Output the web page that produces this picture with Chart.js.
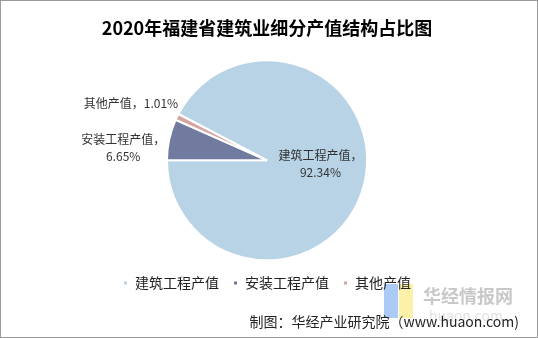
<!DOCTYPE html>
<html>
<head>
<meta charset="utf-8">
<script src="https://cdn.jsdelivr.net/npm/chart.js@4/dist/chart.umd.min.js"></script>
<style>
  html, body { margin: 0; padding: 0; background: #fff; }
  #wrap { position: relative; width: 538px; height: 338px; box-sizing: border-box; border: 1px solid #9a9a9a; }
  canvas { display: block; }
</style>
</head>
<body>
<div id="wrap"><canvas id="grafico_pizza" width="536" height="336"></canvas></div>
<script>
const ctx = document.getElementById('grafico_pizza')

const FONTE = '"Noto Sans CJK SC", "Noto Sans", sans-serif'

// dados
const categorias = ['建筑工程产值', '安装工程产值', '其他产值']
const valores = [92.34, 6.65, 1.01]
const cores = ['#b8d3e5', '#717b9f', '#d4a4a3']

// rótulos fora/dentro de cada fatia (deslocamento a partir da borda da fatia)
const rotulosPos = [
  { dentro: true, dx: 0, dy: -10 },
  { dentro: false, dx: -46, dy: 8 },
  { dentro: false, dx: -46, dy: -13 }
]

// começa a fatia grande logo depois das duas pequenas (que ficam à esquerda)
const rotacao = 270 + (valores[1] + valores[2]) * 3.6

const rotulosPlugin = {
  id: 'rotulos',
  afterDatasetsDraw(chart) {
    const c = chart.ctx
    const meta = chart.getDatasetMeta(0)
    c.save()
    c.fillStyle = '#333'
    c.font = '12px ' + FONTE
    c.textAlign = 'center'
    c.textBaseline = 'middle'
    meta.data.forEach((arc, i) => {
      const p = arc.getProps(['x', 'y', 'startAngle', 'endAngle', 'outerRadius'], true)
      const meio = (p.startAngle + p.endAngle) / 2
      const txt = valores[i].toFixed(2) + '%'
      const pos = rotulosPos[i]
      if (pos.dentro) {
        const r = p.outerRadius * 0.55
        const x = p.x + Math.cos(meio) * r + pos.dx
        const y = p.y + Math.sin(meio) * r + pos.dy
        c.fillText(categorias[i] + '，', x, y - 8)
        c.fillText(txt, x, y + 9)
      } else {
        const x = p.x + Math.cos(meio) * p.outerRadius + pos.dx
        const y = p.y + Math.sin(meio) * p.outerRadius + pos.dy
        if (i === 2) {
          c.fillText(categorias[i] + '，' + txt, x, y)
        } else {
          c.fillText(categorias[i] + '，', x, y - 8)
          c.fillText(txt, x, y + 9)
        }
      }
    })
    c.restore()
  }
}

// marca d'água + fonte
const rodapePlugin = {
  id: 'rodape',
  beforeDraw(chart) {
    const c = chart.ctx
    c.save()
    c.fillStyle = 'rgba(150,190,245,0.8)'
    c.fillRect(383, 283, 14, 34)
    c.fillStyle = 'rgba(253,238,160,0.9)'
    c.fillRect(398, 283, 14, 34)
    c.fillStyle = '#c8c8c8'
    c.font = 'bold 18px ' + FONTE
    c.textBaseline = 'middle'
    c.fillText('华经情报网', 422, 295)
    c.fillStyle = '#e2e2e2'
    c.font = '14px ' + FONTE
    c.fillText('huaon.com', 428, 315)
    c.restore()
  },
  afterDraw(chart) {
    const c = chart.ctx
    c.save()
    c.fillStyle = '#222'
    c.font = '14px ' + FONTE
    c.textAlign = 'right'
    c.textBaseline = 'middle'
    c.fillText('制图：华经产业研究院（www.huaon.com)', 518, 321)
    c.restore()
  }
}

const data = {
  labels: categorias,
  datasets: [{
    data: valores,
    backgroundColor: cores,
    borderColor: '#fff',
    borderWidth: 2,
    radius: 100
  }]
}

const config = {
  type: 'pie',
  data,
  options: {
    responsive: false,
    animation: false,
    rotation: rotacao,
    layout: { padding: { left: 0, right: 4, top: 0, bottom: 37 } },
    plugins: {
      tooltip: { enabled: false },
      title: {
        display: true,
        text: '2020年福建省建筑业细分产值结构占比图',
        color: '#000',
        font: { family: FONTE, size: 18, weight: 'bold' },
        padding: { top: 16, bottom: 20 }
      },
      legend: {
        position: 'bottom',
        labels: {
          color: '#222',
          font: { family: FONTE, size: 14 },
          usePointStyle: true,
          pointStyle: 'rect',
          boxWidth: 5,
          boxHeight: 5,
          pointStyleWidth: 5,
          padding: 14
        }
      }
    }
  },
  plugins: [rotulosPlugin, rodapePlugin]
}

const grafico = new Chart(ctx, config)
</script>
</body>
</html>
